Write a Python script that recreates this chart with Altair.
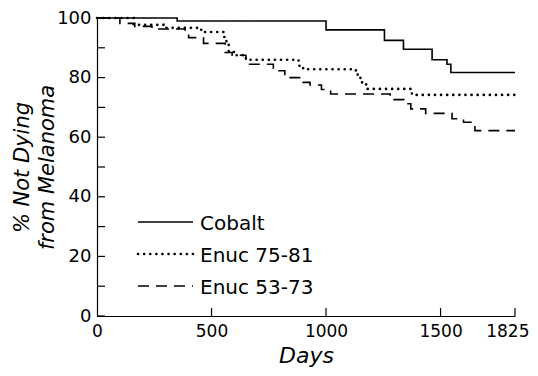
import altair as alt
import pandas as pd

# ---- data ----
cobalt_days = [0, 350, 1000, 1255, 1338, 1463, 1528, 1545, 1825]
cobalt_vals = [100, 99, 96, 92.5, 89.5, 86, 84.5, 81.7, 81.7]

e7581_days = [0, 160, 290, 455, 554, 565, 575, 600, 650, 880, 900, 1130, 1150, 1175, 1375, 1825]
e7581_vals = [100, 97.7, 96.7, 95.3, 93.6, 91, 88.6, 87.5, 86, 84, 82.8, 81, 78.4, 76.2, 74.2, 74.2]

e5373_days = [0, 100, 165, 240, 385, 400, 465, 560, 590, 650, 770, 820, 900, 930, 980,
              1020, 1280, 1340, 1370, 1435, 1550, 1600, 1650, 1825]
e5373_vals = [100, 98.2, 97.2, 96.3, 95.2, 93.4, 91.5, 88.4, 87.5, 84.5, 82.3, 80, 78.4, 77.5, 76,
              74.5, 72.6, 71.2, 69.5, 68, 66.2, 65, 62.2, 62.2]

series_names = ["Cobalt", "Enuc 75-81", "Enuc 53-73"]
x_tick_values = [0, 500, 1000, 1500, 1825]
y_label_values = [0, 20, 40, 60, 80, 100]
y_tick_values = [0, 10, 20, 30, 40, 50, 60, 70, 80, 90, 100]

W, H = 418, 298
FONT = "DejaVu Sans"

xscale = alt.Scale(domain=[0, 1825], nice=False, zero=False)
yscale = alt.Scale(domain=[0, 100], nice=False)


def curve(days, vals, dash, width, cap):
    df = pd.DataFrame({"day": days, "pct": vals})
    return alt.Chart(df).mark_line(
        interpolate="step-after", color="black", strokeDash=dash,
        strokeWidth=width, strokeCap=cap
    ).encode(
        x=alt.X("day:Q", scale=xscale,
                axis=alt.Axis(values=x_tick_values, format="d", ticks=False, grid=False,
                              title="Days",
                              labelFontSize=17, labelFont=FONT, labelColor="black",
                              labelPadding=7, domainColor="black", domainWidth=1.2,
                              labelAlign={"condition": {"test": "datum.value == 1825", "value": "right"},
                                          "value": "center"},
                              labelOffset={"condition": {"test": "datum.value == 1825", "value": 14},
                                           "value": 0},
                              titleFont=FONT, titleFontSize=22, titleFontStyle="italic",
                              titleFontWeight="normal", titleColor="black", titlePadding=6,
                              labelFlush=False)),
        y=alt.Y("pct:Q", scale=yscale,
                axis=alt.Axis(values=y_label_values, ticks=False, grid=False,
                              title=["% Not Dying", "from Melanoma"],
                              labelFontSize=18, labelFont=FONT, labelColor="black",
                              labelPadding=6, domainColor="black", domainWidth=1.2,
                              titleFont=FONT, titleFontSize=21, titleFontStyle="italic",
                              titleFontWeight="normal", titleColor="black", titlePadding=-1,
                              titleLineHeight=25, labelFlush=False)),
    )


solid = curve(cobalt_days, cobalt_vals, [1, 0], 1.6, "butt")
dotted = curve(e7581_days, e7581_vals, [0.1, 6], 2.6, "round")
dashed = curve(e5373_days, e5373_vals, [11, 7], 1.6, "butt")

ytick_df = pd.DataFrame({"v": y_tick_values})
yticks = alt.Chart(ytick_df).mark_rule(color="black", strokeWidth=1.2).encode(
    y=alt.Y("v:Q", scale=yscale), x=alt.value(0), x2=alt.value(8))

xtick_df = pd.DataFrame({"v": x_tick_values[1:]})
xticks = alt.Chart(xtick_df).mark_rule(color="black", strokeWidth=1.2).encode(
    x=alt.X("v:Q", scale=xscale), y=alt.value(H), y2=alt.value(H - 8))

# ---- legend (drawn inside the plot) ----
leg_line_y = [204, 236, 268]
leg_text_y = [211.5, 243.5, 275.5]


def leg_line(i, dash, width, cap):
    return alt.Chart(pd.DataFrame({"name": [series_names[i]]})).mark_rule(
        color="black", strokeDash=dash, strokeWidth=width, strokeCap=cap
    ).encode(x=alt.value(41), x2=alt.value(96), y=alt.value(leg_line_y[i]))


def leg_text(i):
    return alt.Chart(pd.DataFrame({"name": [series_names[i]]})).mark_text(
        align="left", baseline="alphabetic", font=FONT, fontSize=20, color="black"
    ).encode(text="name:N", x=alt.value(103), y=alt.value(leg_text_y[i]))


legend = (leg_line(0, [1, 0], 1.6, "butt") + leg_text(0)
          + leg_line(1, [0.1, 6], 2.6, "round") + leg_text(1)
          + leg_line(2, [11, 7], 1.6, "butt") + leg_text(2))

chart = alt.layer(solid, dotted, dashed, yticks, xticks, legend).properties(
    width=W, height=H,
    autosize=alt.AutoSizeParams(type="none"),
    padding={"left": 89, "top": 10, "right": 15, "bottom": 52},
    background="white",
).configure_view(stroke=None)

chart.save("out.html", embed_options={"renderer": "svg", "actions": False})
